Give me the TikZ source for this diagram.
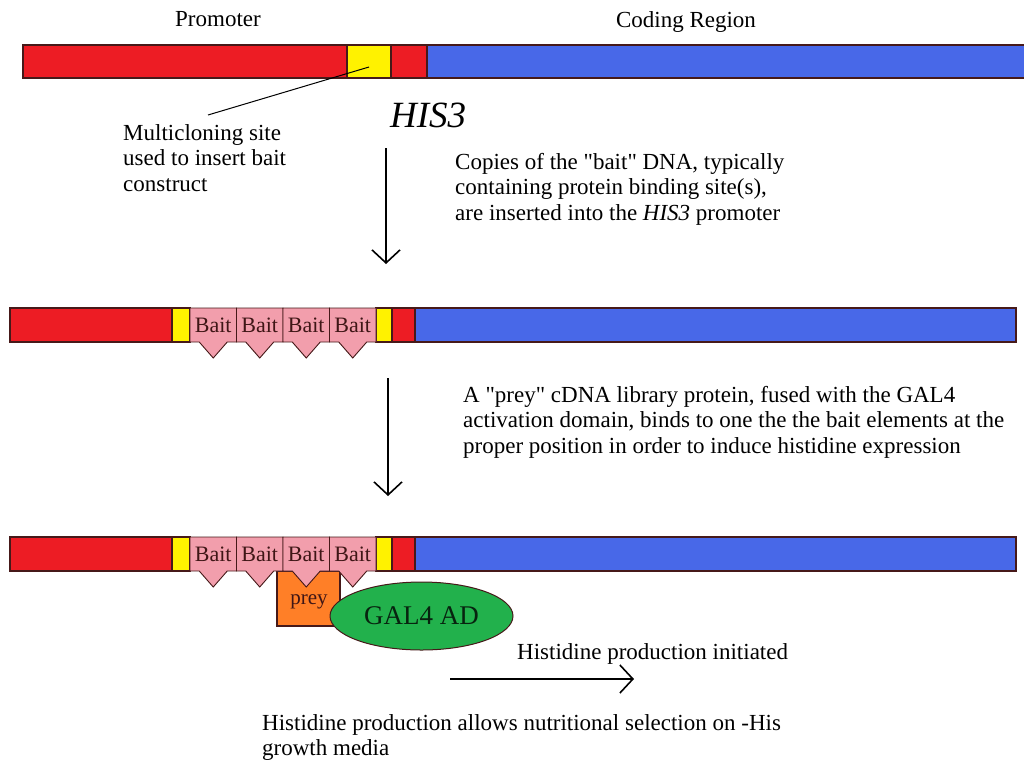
\documentclass[tikz,border=0pt]{standalone}
\usepackage{fontspec}
\setmainfont{Liberation Serif}
\usepackage{xcolor}
\usetikzlibrary{
  arrows.meta,
  positioning,
  shapes.geometric
}
\definecolor{dnared}{RGB}{237,28,36}
\definecolor{siteyellow}{RGB}{255,242,0}
\definecolor{codeblue}{RGB}{72,104,232}
\definecolor{baitpink}{RGB}{242,158,172}
\definecolor{preyorange}{RGB}{255,127,39}
\definecolor{adgreen}{RGB}{34,177,76}
\definecolor{segline}{RGB}{70,25,25}

\begin{document}
\begin{tikzpicture}[x=1pt, y=-1pt,
  seg/.style={draw=segline, line width=1.2pt},
  txt/.style={inner sep=0pt, align=left, font=\fontsize{23}{25.5}\selectfont},
  baitlbl/.style={inner sep=0pt, text=segline!90!black, font=\fontsize{22}{24}\selectfont},
  flowarr/.style={line width=1.6pt, -{Straight Barb[length=13pt, width=28pt, line width=1.6pt]}}]
  \useasboundingbox (0,0) rectangle (1024,761);
  % top construct
  \node[txt, anchor=base] (promoter) at (218,26) {Promoter};
  \node[txt, anchor=base] (coding) at (686,27) {Coding Region};
  \filldraw[seg, fill=dnared] (23,45) rectangle (347,78);
  \filldraw[seg, fill=siteyellow] (347,45) rectangle (391,78);
  \filldraw[seg, fill=dnared] (391,45) rectangle (427,78);
  \filldraw[seg, fill=codeblue] (427,45) rectangle (1030,78);
  \node[txt, anchor=base west, font=\fontsize{37}{40}\selectfont\itshape] (his) at (390,127) {HIS3};
  \coordinate (mcs) at (369,67);
  \coordinate (mcsend) at (208,115);
  \draw[line width=1pt] (mcs) -- (mcsend);
  \node[txt, anchor=north west] (mcslbl) at (123,124) {Multicloning site\\used to insert bait\\construct};
  % step 1
  \coordinate (a1top) at (386,148);
  \coordinate (a1bot) at (386,264);
  \draw[flowarr] (a1top) -- (a1bot);
  \node[txt, anchor=north west] (copies) at (455,153) {Copies of the \textquotedbl bait\textquotedbl{} DNA, typically\\containing protein binding site(s),\\are inserted into the \textit{HIS3} promoter};
  % prey behind the lower row
  \filldraw[seg, fill=preyorange] (277,571) rectangle (340,626);
  \node[baitlbl, font=\fontsize{21}{24}\selectfont] (prey) at (309,602) {prey};
  % rows with bait inserts
  \foreach \y/\nm in {308/mid, 537/low} {
    \filldraw[seg, fill=dnared] (10,\y) rectangle (172,\y+34);
    \filldraw[seg, fill=siteyellow] (172,\y) rectangle (190,\y+34);
    \filldraw[seg, fill=siteyellow] (376,\y) rectangle (392,\y+34);
    \filldraw[seg, fill=dnared] (392,\y) rectangle (415,\y+34);
    \filldraw[seg, fill=codeblue] (415,\y) rectangle (1016,\y+34);
    \foreach \i in {0,...,3} {
      \pgfmathsetmacro\xa{190+46.5*\i}
      \pgfmathsetmacro\xb{\xa+46.5}
      \pgfmathsetmacro\xc{\xa+23.25}
      \filldraw[seg, line width=0.9pt, fill=baitpink] (\xa,\y) -- (\xb,\y) -- (\xb,\y+34)
        -- (\xc+14,\y+34) -- (\xc,\y+50) -- (\xc-14,\y+34) -- (\xa,\y+34) -- cycle;
      \node[baitlbl] (bait\nm\i) at (\xc,\y+17) {Bait};
    }
  }
  \node[ellipse, draw=segline, line width=1pt, fill=adgreen, minimum width=183pt, minimum height=68pt,
    inner sep=0pt, font=\fontsize{27}{30}\selectfont, text=black!80!adgreen] (gal) at (421.5,616) {GAL4 AD};
  % step 2
  \coordinate (a2top) at (388,378);
  \coordinate (a2bot) at (388,496);
  \draw[flowarr] (a2top) -- (a2bot);
  \node[txt, anchor=north west] (preytxt) at (463,386) {A \textquotedbl prey\textquotedbl{} cDNA library protein, fused with the GAL4\\activation domain, binds to one the the bait elements at the\\proper position in order to induce histidine expression};
  % result
  \node[txt, anchor=base west] (init) at (517,659) {Histidine production initiated};
  \coordinate (a3left) at (450,679);
  \coordinate (a3right) at (634,679);
  \draw[flowarr] (a3left) -- (a3right);
  \node[txt, anchor=north west] (select) at (262,714) {Histidine production allows nutritional selection on -His\\growth media};
\end{tikzpicture}
\end{document}
